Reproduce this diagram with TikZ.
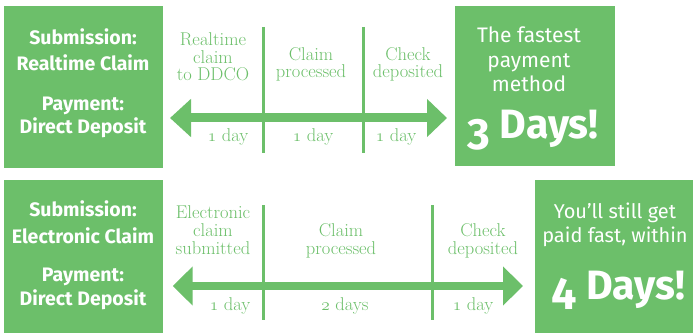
\documentclass[tikz,border=0pt]{standalone}
\usepackage{fontspec}
\usepackage{graphicx}
\newfontfamily\fira{Fira Sans}
\usetikzlibrary{arrows.meta}
\definecolor{grn}{RGB}{108,191,106}
\newcommand{\osone}{\(\mathnormal{1}\)}
\newcommand{\ostwo}{\(\mathnormal{2}\)}
\begin{document}
\begin{tikzpicture}[x=1pt,y=-1pt,
  box/.style={fill=grn,draw=none,inner sep=0pt,outer sep=0pt},
  boxtxt/.style={anchor=base,text=white,inner sep=0pt,font=\fira\bfseries\fontsize{19.5}{19.5}\selectfont},
  softtxt/.style={anchor=base,text=white,inner sep=0pt,font=\fira\fontsize{21}{21}\selectfont},
  bigtxt/.style={anchor=base,text=white,inner sep=0pt,font=\fira\bfseries\fontsize{41}{41}\selectfont},
  lbl/.style={anchor=base,text=grn,inner sep=0pt,font=\fontsize{18.5}{18.5}\selectfont},
  divider/.style={grn,line width=3pt},
  timearrow/.style={grn,line width=#1}]
\useasboundingbox (0,0) rectangle (693,334);
% boxes
\node[box,minimum width=159.3pt,minimum height=162pt] (b1) at (83.65,87) {};
\node[box,minimum width=160pt,minimum height=160pt] (b2) at (535,86) {};
\node[box,minimum width=159pt,minimum height=153pt] (b3) at (83.5,256.5) {};
\node[box,minimum width=158pt,minimum height=153pt] (b4) at (614,256.5) {};
% box texts
\node[boxtxt] (t1a) at (83,45) {Submission:};
\node[boxtxt] (t1b) at (83,70.5) {Realtime Claim};
\node[boxtxt] (t1c) at (83,110.5) {Payment:};
\node[boxtxt] (t1d) at (83,133) {Direct Deposit};
\node[softtxt] (t2a) at (529,43) {The fastest};
\node[softtxt] (t2b) at (529,68) {payment};
\node[softtxt] (t2c) at (529,92) {method};
\node[bigtxt] (t2d) at (533,139) {\raisebox{-10pt}{\scalebox{1.07}{3}} Days!};
\node[boxtxt] (t3a) at (83,216.7) {Submission:};
\node[boxtxt] (t3b) at (83,243.3) {Electronic Claim};
\node[boxtxt] (t3c) at (83,281.7) {Payment:};
\node[boxtxt] (t3d) at (83,305) {Direct Deposit};
\node[softtxt,font=\fira\fontsize{20}{20}\selectfont] (t4a) at (615,218) {You’ll still get};
\node[softtxt,font=\fira\fontsize{20}{20}\selectfont] (t4b) at (615,242) {paid fast, within};
\node[bigtxt] (t4c) at (618,299) {\raisebox{-10pt}{\scalebox{1.1}{4}} Days!};
% arrows
\coordinate (r1) at (0,118);
\coordinate (r2) at (0,286);
\draw[timearrow=9pt,{Triangle[length=21pt,width=37pt]}-{Triangle[length=20pt,width=37pt]},
  shorten <=6.7pt,shorten >=8pt] (b1.east |- r1) -- (b2.west |- r1);
\draw[timearrow=7.5pt,{Triangle[length=20pt,width=38pt]}-{Triangle[length=20pt,width=38pt]},
  shorten <=9.7pt,shorten >=12pt] (b3.east |- r2) -- (b4.west |- r2);
% dividers
\draw[divider] (263,27) -- (263,153);
\draw[divider] (363,27) -- (363,153);
\draw[divider] (263,205) -- (263,320);
\draw[divider] (432,205) -- (432,320);
% top labels
\node[lbl] (l1a) at (213,46) {Realtime};
\node[lbl] (l1b) at (213,63.5) {claim};
\node[lbl] (l1c) at (213,81) {to DDCO};
\node[lbl] (l2a) at (311,60.7) {Claim};
\node[lbl] (l2b) at (311,78) {processed};
\node[lbl] (l3a) at (408,60.7) {Check};
\node[lbl] (l3b) at (408,78) {deposited};
\node[lbl] (d1) at (228,141.7) {\osone\ day};
\node[lbl] (d2) at (313,141.7) {\osone\ day};
\node[lbl] (d3) at (396,141.7) {\osone\ day};
% bottom labels
\node[lbl] (m1a) at (213,218.3) {Electronic};
\node[lbl] (m1b) at (213,236) {claim};
\node[lbl] (m1c) at (213,254) {submitted};
\node[lbl] (m2a) at (341,236.5) {Claim};
\node[lbl] (m2b) at (341,254.3) {processed};
\node[lbl] (m3a) at (483,236.5) {Check};
\node[lbl] (m3b) at (483,254.3) {deposited};
\node[lbl] (e1) at (230,310) {\osone\ day};
\node[lbl] (e2) at (345,310) {\ostwo\ days};
\node[lbl] (e3) at (473,310) {\osone\ day};
\end{tikzpicture}
\end{document}
